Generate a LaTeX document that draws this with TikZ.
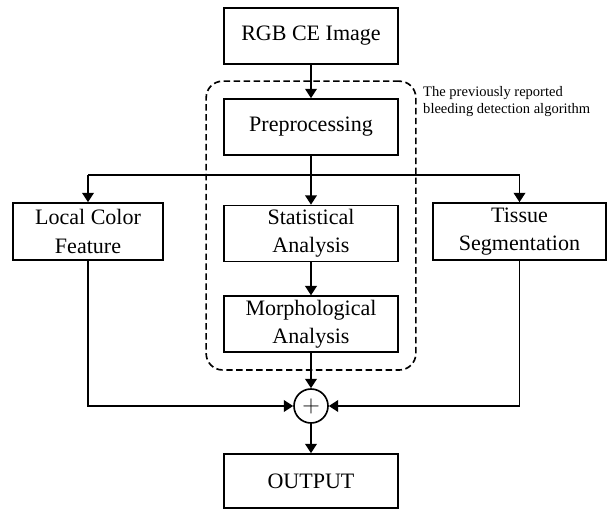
\documentclass[tikz,border=0pt]{standalone}
\usepackage{fontspec}
\setmainfont{Liberation Serif}
\usepackage{tikz}
\usetikzlibrary{positioning,fit,calc,arrows.meta,shapes}
\tikzset{blk/.style={draw, line width=1.4pt, minimum width=5.22cm, minimum height=1.68cm, align=center, inner sep=2pt, font=\fontsize{18.8}{24}\selectfont}}
\tikzset{arr/.style={draw, line width=1.2pt, -{Triangle[width=10pt,length=8pt]}}}
\tikzset{ln/.style={draw, line width=1.2pt}}
\tikzset{algo/.style={draw, dashed, line width=1.4pt, dash pattern=on 5.5pt off 3pt, rounded corners=14pt, inner sep=0.51cm}}
\begin{document}
\begin{tikzpicture}[x=0.03cm, y=-0.03cm]
	\useasboundingbox (0,0) rectangle (608,510);
	\node[blk] (rgb) at (311,36) {RGB CE Image};
	\node[blk] (prep) at (311,127) {Preprocessing};
	\node[blk] (stat) at (311,233.5) {Statistical\\Analysis};
	\node[blk, below=0.99cm of stat] (morph) {Morphological\\Analysis};
	\node[blk, minimum width=4.5cm, minimum height=1.71cm] (local) at (88,231.5) {Local Color\\Feature};
	\node[blk, minimum width=5.19cm, minimum height=1.71cm] (tissue) at (519.5,231.5) {Tissue\\Segmentation};
	\node[draw, circle, line width=1.4pt, minimum size=1.02cm, inner sep=0pt, font=\fontsize{20}{20}\selectfont] (sum) at (311,406) {$+$};
	\node[blk, minimum height=1.62cm] (out) at (311,481) {OUTPUT};

	\node[algo, fit=(prep)(stat)(morph)] (algo) {};
	\node[anchor=north west, align=left, inner sep=0pt, font=\fontsize{12.4}{14.5}\selectfont] (algolab) at (423,86) {The previously reported\\bleeding detection algorithm};

	\coordinate (split) at (311,175);
	\coordinate (splitl) at (88,175);
	\coordinate (splitr) at (519.5,175);
	\coordinate (joinl) at (88,406);
	\coordinate (joinr) at (519.5,406);

	\draw[arr] (rgb) -- (prep);
	\draw[arr] (prep) -- (stat);
	\draw[ln] (splitl) -- (splitr);
	\draw[arr] (splitl) -- (local);
	\draw[arr] (splitr) -- (tissue);
	\draw[arr] (stat) -- (morph);
	\draw[arr] (morph) -- (sum);
	\draw[arr] (local) -- (joinl) -- (sum);
	\draw[arr] (tissue) -- (joinr) -- (sum);
	\draw[arr] (sum) -- (out);
\end{tikzpicture}
\end{document}
